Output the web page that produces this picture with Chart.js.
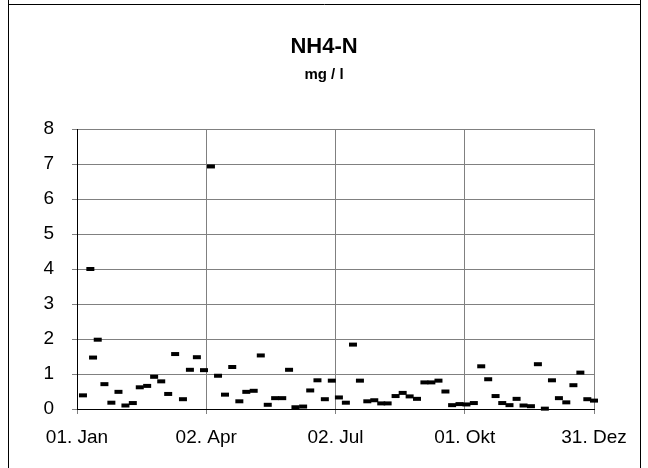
<!DOCTYPE html>
<html>
<head>
<meta charset="utf-8">
<script src="https://cdn.jsdelivr.net/npm/chart.js@4/dist/chart.umd.min.js"></script>
<style>
  html, body { margin: 0; padding: 0; background: #fff; }
  #wrap { width: 648px; height: 468px; position: relative; }
</style>
</head>
<body>
<div id="wrap"><canvas id="nh4Chart" width="648" height="468"></canvas></div>
<script>
// sample day (days after 01. Jan) and NH4-N value in mg/l
const sampleDays = [
  4.2, 9.4, 11.3, 14.6, 19.3, 24.2, 29.2, 34.1, 39.3, 44.2,
  49.4, 54.3, 59.3, 64.2, 69.1, 74.6, 79.5, 84.4, 89.4, 94.3,
  99.3, 104.2, 109.3, 114.3, 119.2, 124.4, 129.4, 134.3, 139.5, 144.5,
  149.3, 153.8, 159.2, 164.2, 169.3, 174.5, 179.4, 184.4, 189.3, 194.3,
  199.2, 204.4, 209.3, 214.2, 218.7, 224.3, 229.3, 234.2, 239.4, 244.6,
  249.5, 254.5, 259.4, 264.1, 269.3, 274.2, 279.4, 284.6, 289.5, 294.7,
  299.4, 304.5, 309.5, 314.4, 319.6, 324.5, 329.4, 334.4, 339.3, 344.5,
  349.5, 354.4, 359.3, 364
];
const nh4Values = [
  0.39, 4.0, 1.47, 1.98, 0.71, 0.18, 0.49, 0.10, 0.17, 0.62,
  0.66, 0.92, 0.79, 0.43, 1.57, 0.28, 1.12, 1.48, 1.11, 6.93,
  0.95, 0.41, 1.20, 0.22, 0.49, 0.52, 1.53, 0.12, 0.31, 0.31,
  1.12, 0.05, 0.07, 0.53, 0.82, 0.28, 0.81, 0.33, 0.18, 1.84,
  0.81, 0.22, 0.25, 0.16, 0.16, 0.37, 0.46, 0.36, 0.29, 0.76,
  0.76, 0.81, 0.50, 0.11, 0.14, 0.13, 0.17, 1.22, 0.85, 0.37,
  0.17, 0.11, 0.29, 0.10, 0.08, 1.28, 0.01, 0.82, 0.31, 0.19,
  0.68, 1.04, 0.28, 0.24
];
const xTickDays = [0, 91, 182, 273, 364];
const xTickLabels = ['01. Jan', '02. Apr', '02. Jul', '01. Okt', '31. Dez'];
const titleText = 'NH4-N';
const unitText = 'mg / l';

document.addEventListener("DOMContentLoaded", () => {
  const ctx = document.getElementById("nh4Chart").getContext("2d");

  // outer frame of the sheet + title centred on the whole sheet
  const framePlugin = {
    id: 'frame',
    afterDraw(chart) {
      const c = chart.ctx;
      c.save();
      c.strokeStyle = '#000';
      c.lineWidth = 1;
      c.beginPath();
      c.moveTo(8.5, 0); c.lineTo(8.5, 468);
      c.moveTo(8, 4.5); c.lineTo(641, 4.5);
      c.moveTo(640.5, 0); c.lineTo(640.5, 468);
      c.stroke();

      c.fillStyle = '#000';
      c.textAlign = 'center';
      c.textBaseline = 'middle';
      c.font = "bold 22px 'Liberation Sans'";
      c.fillText(titleText, 324, 47);
      c.font = "bold 15px 'Liberation Sans'";
      c.fillText(unitText, 324, 75);
      c.restore();
    }
  };

  const points = sampleDays.map((d, i) => ({ x: d, y: nh4Values[i] }));

  new Chart(ctx, {
    type: 'scatter',
    data: {
      datasets: [{
        data: points,
        pointStyle: 'line',
        radius: 4,
        borderWidth: 4,
        borderColor: '#000',
        backgroundColor: '#000',
        clip: false
      }]
    },
    options: {
      responsive: false,
      animation: false,
      events: [],
      layout: { padding: { left: 0, right: 54, top: 129, bottom: 0 } },
      plugins: {
        legend: { display: false },
        tooltip: { enabled: false }
      },
      scales: {
        x: {
          type: 'linear',
          min: 0,
          max: 364,
          afterBuildTicks: axis => { axis.ticks = xTickDays.map(v => ({ value: v })); },
          afterFit: axis => { axis.height = 59; },
          ticks: {
            color: '#000',
            font: { family: 'Liberation Sans', size: 19 },
            padding: 12,
            maxRotation: 0,
            autoSkip: false,
            callback: v => xTickLabels[xTickDays.indexOf(v)]
          },
          grid: { color: '#808080', tickColor: '#808080', tickLength: 5 },
          border: { color: '#000', width: 1 }
        },
        y: {
          min: 0,
          max: 8,
          afterFit: axis => { axis.width = 77; },
          ticks: {
            stepSize: 1,
            color: '#000',
            font: { family: 'Liberation Sans', size: 19 },
            padding: 18
          },
          grid: { color: '#808080', tickColor: '#808080', tickLength: 5 },
          border: { color: '#000', width: 1 }
        }
      }
    },
    plugins: [framePlugin]
  });
});
</script>
</body>
</html>
